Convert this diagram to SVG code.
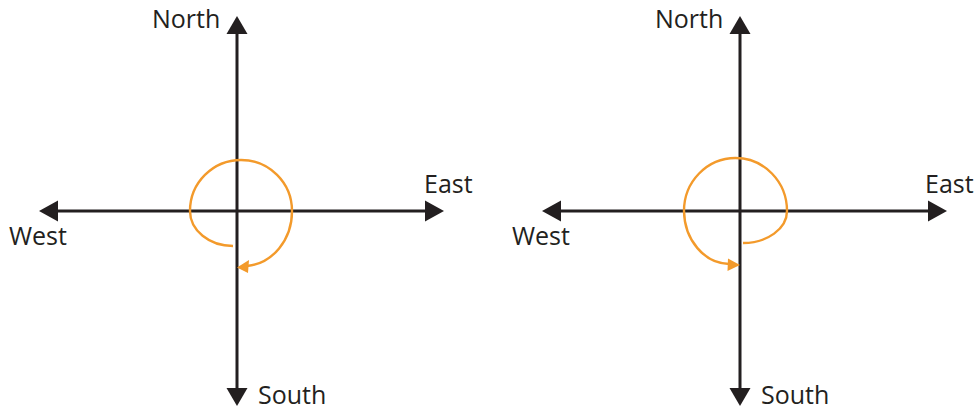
<svg xmlns="http://www.w3.org/2000/svg" width="976" height="412" viewBox="0 0 976 412">
<style>
.axis{stroke:#231f20;stroke-width:3;fill:none}
.head{fill:#231f20}
.turn{stroke:#F39A2B;stroke-width:2.4;fill:none}
.tip{fill:#F39A2B}
.lbl{font-family:"Open Sans","Noto Sans",sans-serif;font-size:25px;fill:#231f20}
</style>
<rect width="976" height="412" fill="#fff"/>
<g id="left">
  <g id="left-axes">
    <line class="axis" x1="237" y1="30" x2="237" y2="392"/>
    <line class="axis" x1="55" y1="211" x2="428" y2="211"/>
    <polygon class="head" points="237,16 226.5,34 247.5,34"/>
    <polygon class="head" points="237,406 226.5,388 247.5,388"/>
    <polygon class="head" points="39,211 58,200.5 58,221.5"/>
    <polygon class="head" points="444,211 425,200.5 425,221.5"/>
  </g>
  <g id="left-turn">
    <path class="turn" d="M 233 246 A 43 35 0 0 1 190 211 A 51 51 0 0 1 241 160 A 51 51 0 0 1 292 211 A 49 55 0 0 1 247 266"/>
    <polygon class="tip" points="237,267.5 249,260 248,273"/>
  </g>
  <text class="lbl" x="152" y="28">North</text>
  <text class="lbl" x="424" y="193">East</text>
  <text class="lbl" x="9" y="245">West</text>
  <text class="lbl" x="258" y="404">South</text>
</g>
<g id="right">
  <g id="right-axes">
    <line class="axis" x1="740" y1="30" x2="740" y2="392"/>
    <line class="axis" x1="558" y1="211" x2="931" y2="211"/>
    <polygon class="head" points="740,16 729.5,34 750.5,34"/>
    <polygon class="head" points="740,406 729.5,388 750.5,388"/>
    <polygon class="head" points="542,211 561,200.5 561,221.5"/>
    <polygon class="head" points="947,211 928,200.5 928,221.5"/>
  </g>
  <g id="right-turn">
    <path class="turn" d="M 743 243 A 44 32 0 0 0 787 211 A 51.5 53 0 0 0 735.5 158 A 51.5 53 0 0 0 684 211 A 46 54 0 0 0 729 264"/>
    <polygon class="tip" points="740,265 728,258.5 727.5,271"/>
  </g>
  <text class="lbl" x="655" y="28">North</text>
  <text class="lbl" x="925" y="193">East</text>
  <text class="lbl" x="512" y="245">West</text>
  <text class="lbl" x="761" y="404">South</text>
</g>
</svg>
